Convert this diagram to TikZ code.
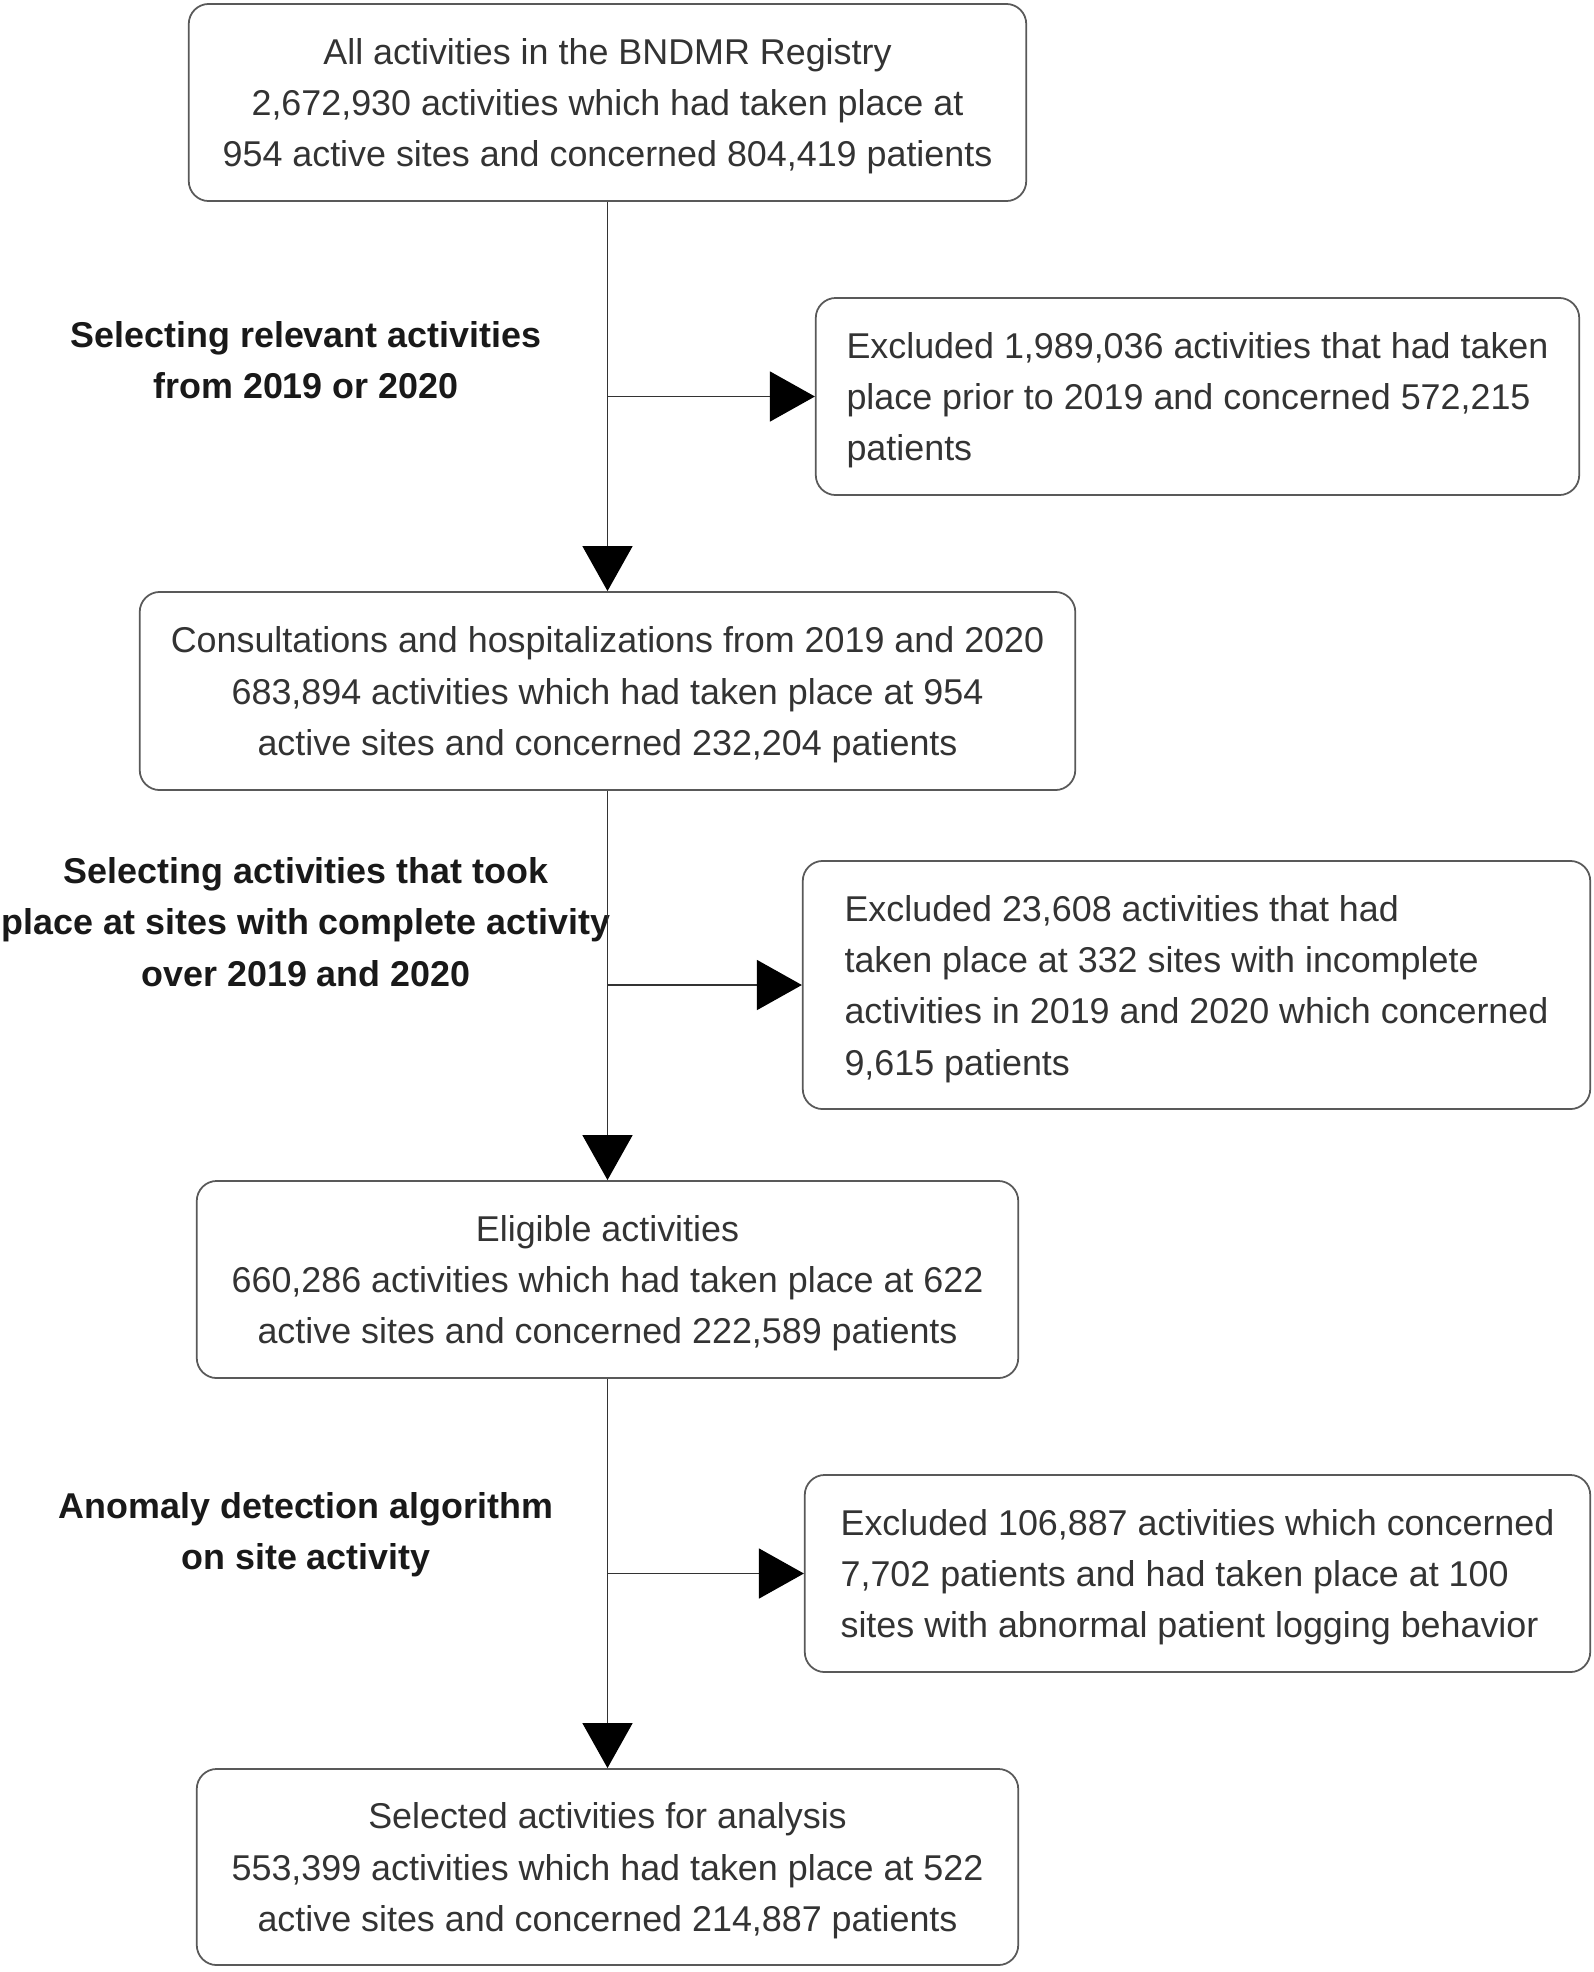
\documentclass[tikz,border=0pt]{standalone}
\usepackage{fontspec}
\setmainfont{Liberation Sans}
\usetikzlibrary{arrows.meta}

\begin{document}
\begin{tikzpicture}[x=0.01cm, y=-0.01cm]
    \tikzset{box/.style={draw=black!65, line width=0.5pt, rounded corners=0.2cm, align=center, text=black!80,
                 font=\fontsize{10.2}{14.6}\selectfont, inner sep=0pt, text depth=-2pt},
             exbox/.style={box, align=left},
             lab/.style={align=center, font=\fontsize{10.2}{14.6}\selectfont\bfseries, text=black!90},
             arr/.style={draw=black!80, line width=0.45pt, -{Triangle[length=0.45cm, width=0.5cm, color=black]}}}
    \useasboundingbox (0,0) rectangle (1593,1972);

    % main column
    \node[box, minimum width=8.37cm, minimum height=1.97cm] (all) at (607.5,102.5)
        {All activities in the BNDMR Registry\\2,672,930 activities which had taken place at\\954 active sites and concerned 804,419 patients};
    \node[box, minimum width=9.35cm, minimum height=1.98cm] (cons) at (607.5,691)
        {Consultations and hospitalizations from 2019 and 2020\\683,894 activities which had taken place at 954\\active sites and concerned 232,204 patients};
    \node[box, minimum width=8.21cm, minimum height=1.97cm] (elig) at (607.5,1279.5)
        {Eligible activities\\660,286 activities which had taken place at 622\\active sites and concerned 222,589 patients};
    \node[box, minimum width=8.21cm, minimum height=1.96cm] (sel) at (607.5,1867)
        {Selected activities for analysis\\553,399 activities which had taken place at 522\\active sites and concerned 214,887 patients};

    % excluded
    \node[exbox, minimum width=7.63cm, minimum height=1.97cm] (exA) at (1197.5,396.5)
        {Excluded 1,989,036 activities that had taken\\place prior to 2019 and concerned 572,215\\patients};
    \node[exbox, minimum width=7.87cm, minimum height=2.48cm] (exB) at (1196.5,985)
        {Excluded 23,608 activities that had\\taken place at 332 sites with incomplete\\activities in 2019 and 2020 which concerned\\9,615 patients};
    \node[exbox, minimum width=7.85cm, minimum height=1.97cm] (exC) at (1197.5,1573.5)
        {Excluded 106,887 activities which concerned\\7,702 patients and had taken place at 100\\sites with abnormal patient logging behavior};

    % step labels
    \node[lab] (selA) at (306,360) {Selecting relevant activities\\from 2019 or 2020};
    \node[lab] (selB) at (306,922) {Selecting activities that took\\place at sites with complete activity\\over 2019 and 2020};
    \node[lab] (selC) at (306,1535) {Anomaly detection algorithm\\on site activity};

    \foreach \a/\b in {all/cons, cons/elig, elig/sel} {
        \draw[arr] (\a.south) -- (\b.north);
    }
    \foreach \a/\b in {all/exA, cons/exB, elig/exC} {
        \coordinate (\a-\b) at (\a.south |- \b.west);
        \draw[arr] (\a-\b) -- (\b.west);
    }
\end{tikzpicture}
\end{document}
